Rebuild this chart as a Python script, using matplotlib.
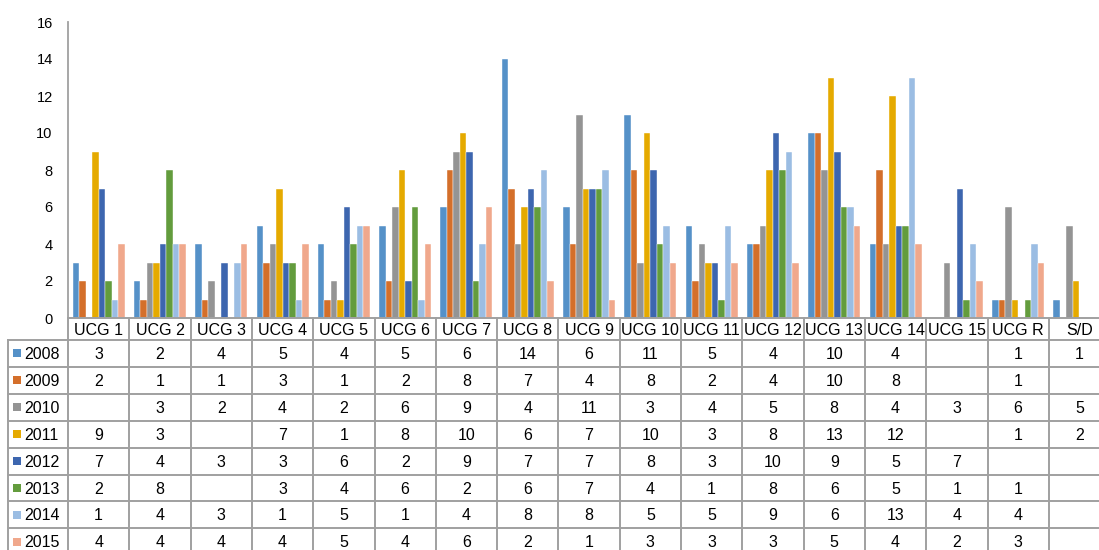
import matplotlib.pyplot as plt
from matplotlib.patches import Rectangle
import numpy as np

plt.rcParams['font.family'] = ['Liberation Sans', 'DejaVu Sans']

categories = ['UCG 1', 'UCG 2', 'UCG 3', 'UCG 4', 'UCG 5', 'UCG 6', 'UCG 7', 'UCG 8',
              'UCG 9', 'UCG 10', 'UCG 11', 'UCG 12', 'UCG 13', 'UCG 14', 'UCG 15',
              'UCG R', 'S/D']
years = ['2008', '2009', '2010', '2011', '2012', '2013', '2014', '2015']

# None = empty cell
v2008 = [3, 2, 4, 5, 4, 5, 6, 14, 6, 11, 5, 4, 10, 4, None, 1, 1]
v2009 = [2, 1, 1, 3, 1, 2, 8, 7, 4, 8, 2, 4, 10, 8, None, 1, None]
v2010 = [None, 3, 2, 4, 2, 6, 9, 4, 11, 3, 4, 5, 8, 4, 3, 6, 5]
v2011 = [9, 3, None, 7, 1, 8, 10, 6, 7, 10, 3, 8, 13, 12, None, 1, 2]
v2012 = [7, 4, 3, 3, 6, 2, 9, 7, 7, 8, 3, 10, 9, 5, 7, None, None]
v2013 = [2, 8, None, 3, 4, 6, 2, 6, 7, 4, 1, 8, 6, 5, 1, 1, None]
v2014 = [1, 4, 3, 1, 5, 1, 4, 8, 8, 5, 5, 9, 6, 13, 4, 4, None]
v2015 = [4, 4, 4, 4, 5, 4, 6, 2, 1, 3, 3, 3, 5, 4, 2, 3, None]
series = [v2008, v2009, v2010, v2011, v2012, v2013, v2014, v2015]

colors = ['#5591C8', '#D46F2A', '#949494', '#E5AA00', '#3D66AF', '#639C3D', '#9BBDE3', '#F0A88C']
grid_col = '#A0A0A0'

W, H = 1099, 550
fig = plt.figure(figsize=(W / 100, H / 100), dpi=100)

cw = 61.3          # category width in pixels
n = len(categories)
label_w = 60.0     # row-label column width in pixels
fs = 11.5

# bar chart area
ax = fig.add_axes([68 / W, (H - 318) / H, n * cw / W, 296 / H])
x = np.arange(n)
bw = 0.106
for i, (vals, c) in enumerate(zip(series, colors)):
    h = [v if v is not None else 0 for v in vals]
    ax.bar(x + 0.5 + (i - 3.5) * bw, h, width=bw, color=c,
           edgecolor='white', linewidth=0.3)
ax.set_xlim(0, n)
ax.set_ylim(0, 16)
ax.set_yticks(range(0, 17, 2))
ax.set_xticks([])
ax.tick_params(axis='y', length=0, labelsize=10.5, pad=11)
for s in ['top', 'right', 'bottom']:
    ax.spines[s].set_visible(False)
ax.spines['left'].set_color(grid_col)
ax.spines['left'].set_linewidth(1.3)

# data table below the chart
hdr = 22 / 26.9
nrows = len(years)
tax = fig.add_axes([8 / W, (H - 318 - 22 - nrows * 26.9) / H,
                    (n * cw + label_w) / W, (22 + nrows * 26.9) / H])
x0 = -label_w / cw
tax.set_xlim(x0, n)
tax.set_ylim(hdr + nrows, 0)
tax.axis('off')

lw = 1.4
tax.plot([0, n], [0, 0], color=grid_col, lw=lw, clip_on=False)
for r in range(nrows + 1):
    tax.plot([x0, n], [hdr + r, hdr + r], color=grid_col, lw=lw, clip_on=False)
for k in range(n + 1):
    tax.plot([k, k], [0, hdr + nrows], color=grid_col, lw=lw, clip_on=False)
tax.plot([x0, x0], [hdr, hdr + nrows], color=grid_col, lw=lw, clip_on=False)

for k, cat in enumerate(categories):
    tax.text(k + 0.5, hdr / 2 + 0.04, cat, ha='center', va='center', fontsize=fs)

for r, (yr, vals, c) in enumerate(zip(years, series, colors)):
    yc = hdr + r + 0.5
    tax.add_patch(Rectangle((x0 + 5 / cw, yc - 4 / 26.9), 8 / cw, 8 / 26.9,
                            facecolor=c, edgecolor='none'))
    tax.text(x0 + 16 / cw, yc + 0.04, yr, ha='left', va='center', fontsize=fs)
    for k, v in enumerate(vals):
        if v is not None:
            tax.text(k + 0.5, yc + 0.04, str(v), ha='center', va='center', fontsize=fs)

fig.savefig('out.png', dpi=100)
